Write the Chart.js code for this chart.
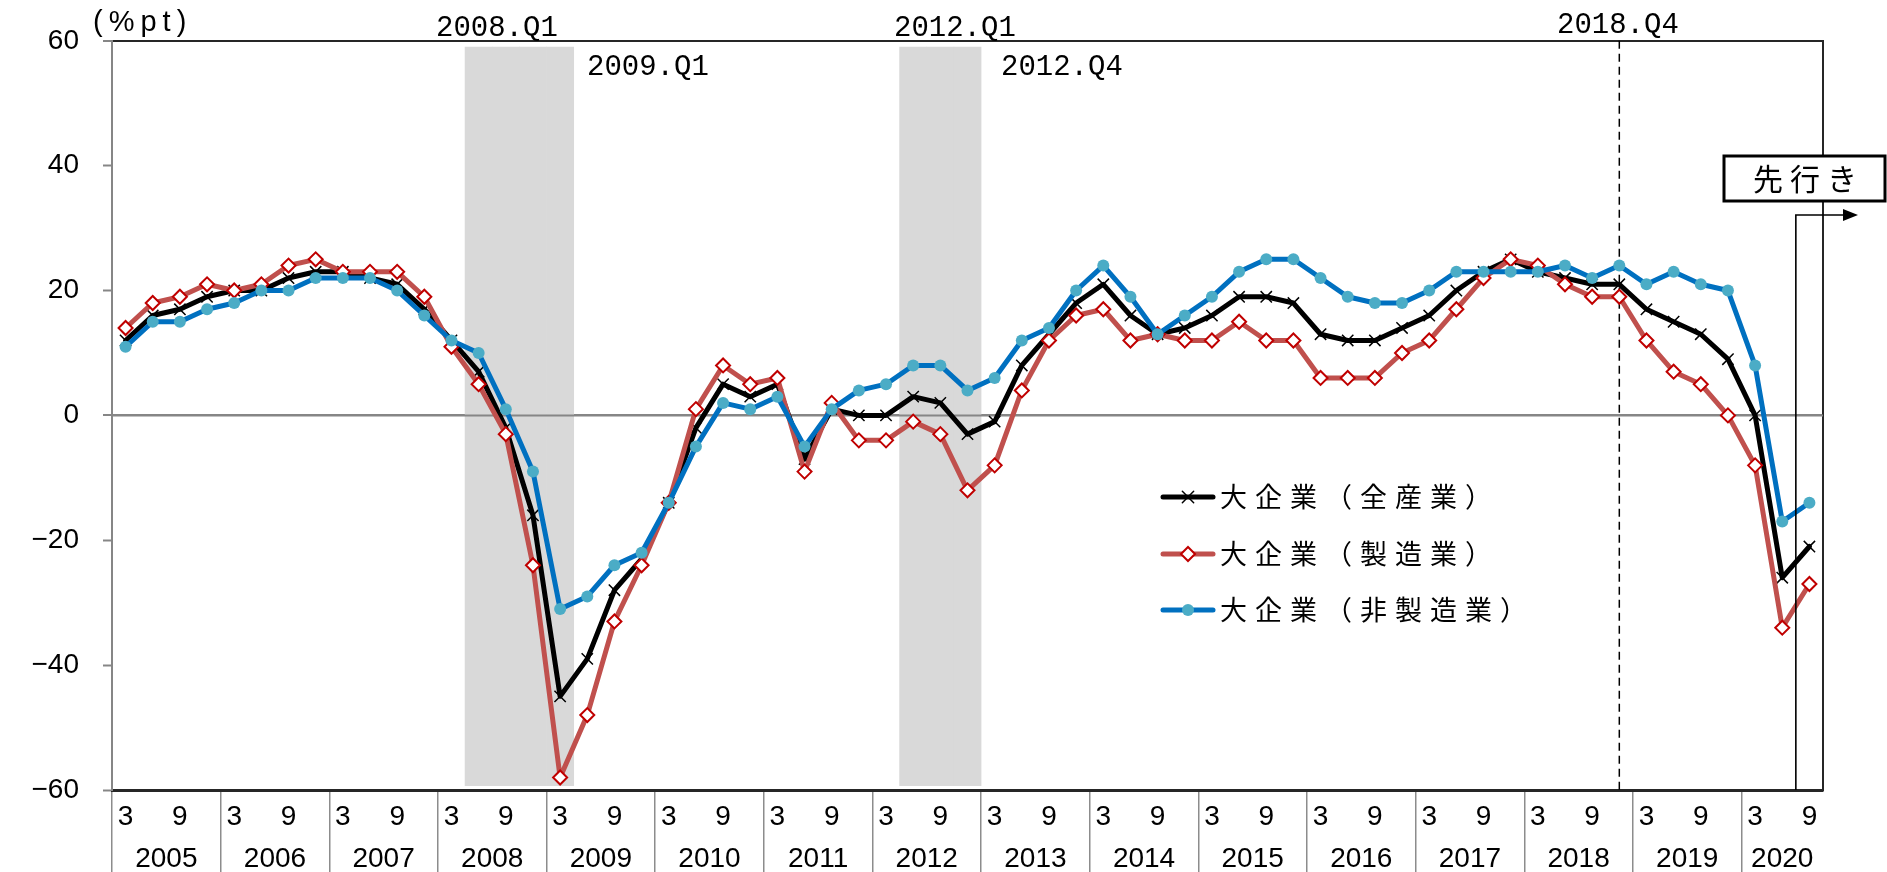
<!DOCTYPE html>
<html lang="ja">
<head>
<meta charset="utf-8">
<title>大企業 業況判断DI</title>
<script src="https://cdn.jsdelivr.net/npm/chart.js"></script>
<style>
html,body{margin:0;padding:0;background:#fff;}
canvas{display:block;}
</style>
</head>
<body>
<canvas id="c" width="1887" height="872"></canvas>
<script>
// ---- categories (year/month of each quarterly survey) ----
const categories = [
  '2005/3','2005/6','2005/9','2005/12',
  '2006/3','2006/6','2006/9','2006/12',
  '2007/3','2007/6','2007/9','2007/12',
  '2008/3','2008/6','2008/9','2008/12',
  '2009/3','2009/6','2009/9','2009/12',
  '2010/3','2010/6','2010/9','2010/12',
  '2011/3','2011/6','2011/9','2011/12',
  '2012/3','2012/6','2012/9','2012/12',
  '2013/3','2013/6','2013/9','2013/12',
  '2014/3','2014/6','2014/9','2014/12',
  '2015/3','2015/6','2015/9','2015/12',
  '2016/3','2016/6','2016/9','2016/12',
  '2017/3','2017/6','2017/9','2017/12',
  '2018/3','2018/6','2018/9','2018/12',
  '2019/3','2019/6','2019/9','2019/12',
  '2020/3','2020/6','2020/9'
];

// ---- series values (%pt) ----
const allIndustries = [
  12, 16, 17, 19,
  20, 20, 22, 23,
  23, 22, 21, 17,
  12, 7, -2, -16,
  -45, -39, -28, -23,
  -14, -2, 5, 3,
  5, -7, 1, 0,
  0, 3, 2, -3,
  -1, 8, 13, 18,
  21, 16, 13, 14,
  16, 19, 19, 18,
  13, 12, 12, 14,
  16, 20, 23, 25,
  23, 22, 21, 21,
  17, 15, 13, 9,
  0, -26, -21
];
const manufacturing = [
  14, 18, 19, 21,
  20, 21, 24, 25,
  23, 23, 23, 19,
  11, 5, -3, -24,
  -58, -48, -33, -24,
  -14, 1, 8, 5,
  6, -9, 2, -4,
  -4, -1, -3, -12,
  -8, 4, 12, 16,
  17, 12, 13, 12,
  12, 15, 12, 12,
  6, 6, 6, 10,
  12, 17, 22, 25,
  24, 21, 19, 19,
  12, 7, 5, 0,
  -8, -34, -27
];
const nonManufacturing = [
  11, 15, 15, 17,
  18, 20, 20, 22,
  22, 22, 20, 16,
  12, 10, 1, -9,
  -31, -29, -24, -22,
  -14, -5, 2, 1,
  3, -5, 1, 4,
  5, 8, 8, 4,
  6, 12, 14, 20,
  24, 19, 13, 16,
  19, 23, 25, 25,
  22, 19, 18, 18,
  20, 23, 23, 23,
  23, 24, 22, 24,
  21, 23, 21, 20,
  8, -17, -14
];

const seriesNames = ['大企業（全産業）', '大企業（製造業）', '大企業（非製造業）'];

// ---- axis ticks ----
const yTicks = [-60, -40, -20, 0, 20, 40, 60];
const shownMonths = ['3', '9'];

// ---- shaded periods and markers ----
const bandPeriods = [['2008/6', '2009/3'], ['2012/6', '2012/12']];
const bandRange = [-59.3, 59];
const dashedMarker = '2018/12';
const forecastSplit = ['2020/6', '2020/9'];
const annotationTexts = ['2008.Q1', '2009.Q1', '2012.Q1', '2012.Q4', '2018.Q4'];
const forecastText = '先行き';
const unitText = '(%pt)';

// derived helpers
const idxOf = c => categories.indexOf(c);
const bandData = categories.map((c, i) =>
  bandPeriods.some(([a, b]) => i >= idxOf(a) && i <= idxOf(b)) ? bandRange.slice() : null);
const yearList = [];
categories.forEach(c => { const y = c.split('/')[0]; if (!yearList.includes(y)) yearList.push(y); });
const yearCenters = yearList.map(y => {
  const ids = categories.map((c, i) => c.startsWith(y + '/') ? i : -1).filter(i => i >= 0);
  return (ids[0] + ids[ids.length - 1]) / 2;
});

const SANS = "'Liberation Sans', Arial, sans-serif";
const MONO = "'Liberation Mono', 'DejaVu Sans Mono', monospace";
const CJK = "'Noto Sans CJK JP', 'Noto Sans CJK SC', sans-serif";

// annotation placement (pixels)
const annotationPos = [
  {x: 436, y: 26}, {x: 587, y: 65}, {x: 894, y: 26}, {x: 1001, y: 65}, {x: 1557, y: 23}
];

function spacedText(ctx, text, x, y, spacing, align) {
  ctx.letterSpacing = spacing + 'px';
  const w = ctx.measureText(text).width - spacing;
  let left = x;
  if (align === 'center') left = x - w / 2;
  ctx.textAlign = 'left';
  ctx.fillText(text, left, y);
  ctx.letterSpacing = '0px';
}

const overlay = {
  id: 'overlay',
  afterDatasetDraw(chart, args) {
    if (args.meta.type !== 'bar') return;
    const {ctx, chartArea: a, scales: {x, y}} = chart;
    ctx.save();
    const y0 = y.getPixelForValue(0);
    ctx.strokeStyle = '#868686';
    ctx.lineWidth = 2;
    ctx.beginPath(); ctx.moveTo(a.left, y0); ctx.lineTo(a.right, y0); ctx.stroke();
    const xd = x.getPixelForValue(idxOf(dashedMarker));
    ctx.strokeStyle = '#000';
    ctx.lineWidth = 1.5;
    ctx.setLineDash([8, 5]);
    ctx.beginPath(); ctx.moveTo(xd, a.top); ctx.lineTo(xd, a.bottom); ctx.stroke();
    ctx.restore();
  },
  afterDraw(chart) {
    const {ctx, chartArea: a, scales: {x, y}} = chart;
    ctx.save();
    ctx.fillStyle = '#000';

    // year labels of the category axis (second row)
    ctx.font = '28px ' + SANS;
    ctx.textBaseline = 'middle';
    ctx.textAlign = 'center';
    yearList.forEach((yr, k) => {
      ctx.fillText(yr, x.getPixelForValue(yearCenters[k]), 859);
    });

    // period annotations
    ctx.textBaseline = 'alphabetic';
    ctx.font = '29px ' + MONO;
    annotationTexts.forEach((t, i) => {
      const p = annotationPos[i];
      spacedText(ctx, t, p.x, p.y + 10, 0, 'left');
    });
    // unit
    ctx.font = '29px ' + SANS;
    spacedText(ctx, unitText, 93, 31, 6, 'left');

    // forecast arrow
    const xf = x.getPixelForValue((idxOf(forecastSplit[0]) + idxOf(forecastSplit[1])) / 2);
    const ya = 215;
    ctx.strokeStyle = '#000';
    ctx.lineWidth = 1.6;
    ctx.beginPath();
    ctx.moveTo(xf, a.bottom);
    ctx.lineTo(xf, ya);
    ctx.lineTo(1845, ya);
    ctx.stroke();
    ctx.beginPath();
    ctx.moveTo(1858, ya); ctx.lineTo(1843, ya - 6); ctx.lineTo(1843, ya + 6); ctx.closePath();
    ctx.fill();

    // forecast box
    ctx.fillStyle = '#fff';
    ctx.fillRect(1724, 156, 162, 45);
    ctx.strokeStyle = '#000';
    ctx.lineWidth = 3;
    ctx.strokeRect(1724, 156, 161, 45);
    ctx.fillStyle = '#000';
    ctx.font = '30px ' + CJK;
    ctx.textBaseline = 'middle';
    spacedText(ctx, forecastText, 1805, 179, 7, 'center');

    // legend
    const rows = [497, 554, 610];
    chart.data.datasets.filter(d => d.type === 'line').forEach((d, i) => {
      const ry = rows[i];
      ctx.strokeStyle = d.borderColor;
      ctx.lineWidth = 5;
      ctx.lineCap = 'round';
      ctx.beginPath(); ctx.moveTo(1163, ry); ctx.lineTo(1213, ry); ctx.stroke();
      const cx = 1188;
      if (d.pointStyle === 'crossRot') {
        ctx.strokeStyle = d.pointBorderColor; ctx.lineWidth = 1.5;
        const r = d.pointRadius * Math.SQRT1_2;
        ctx.beginPath();
        ctx.moveTo(cx - r, ry - r); ctx.lineTo(cx + r, ry + r);
        ctx.moveTo(cx - r, ry + r); ctx.lineTo(cx + r, ry - r);
        ctx.stroke();
      } else if (d.pointStyle === 'rectRot') {
        const r = d.pointRadius;
        ctx.fillStyle = d.pointBackgroundColor;
        ctx.strokeStyle = d.pointBorderColor; ctx.lineWidth = d.pointBorderWidth;
        ctx.beginPath();
        ctx.moveTo(cx - r, ry); ctx.lineTo(cx, ry - r); ctx.lineTo(cx + r, ry); ctx.lineTo(cx, ry + r); ctx.closePath();
        ctx.fill(); ctx.stroke();
      } else {
        ctx.fillStyle = d.pointBackgroundColor;
        ctx.beginPath(); ctx.arc(cx, ry, d.pointRadius, 0, Math.PI * 2); ctx.fill();
      }
      ctx.fillStyle = '#000';
      ctx.font = '27px ' + CJK;
      ctx.textBaseline = 'middle';
      spacedText(ctx, d.label, 1220, ry, 8, 'left');
    });
    ctx.restore();
  }
};

Chart.defaults.font.family = SANS;
Chart.defaults.color = '#000';

new Chart(document.getElementById('c'), {
  type: 'line',
  data: {
    labels: categories,
    datasets: [
      {
        type: 'bar', label: 'band', data: bandData,
        backgroundColor: '#D9D9D9', borderWidth: 0,
        barPercentage: 1, categoryPercentage: 1, grouped: false, order: 10
      },
      {
        type: 'line', label: seriesNames[0], data: allIndustries,
        borderColor: '#000000', borderWidth: 5, tension: 0,
        borderJoinStyle: 'round', borderCapStyle: 'round',
        pointStyle: 'crossRot', pointRadius: 8, pointBorderColor: '#000000',
        pointBackgroundColor: '#000000', pointBorderWidth: 1.5, order: 3
      },
      {
        type: 'line', label: seriesNames[1], data: manufacturing,
        borderColor: '#C0504D', borderWidth: 5, tension: 0,
        borderJoinStyle: 'round', borderCapStyle: 'round',
        pointStyle: 'rectRot', pointRadius: 7, pointBorderColor: '#C00000',
        pointBackgroundColor: '#FFFFFF', pointBorderWidth: 2, order: 2
      },
      {
        type: 'line', label: seriesNames[2], data: nonManufacturing,
        borderColor: '#0070C0', borderWidth: 5, tension: 0,
        borderJoinStyle: 'round', borderCapStyle: 'round',
        pointStyle: 'circle', pointRadius: 6, pointBorderColor: '#4BACC6',
        pointBackgroundColor: '#4BACC6', pointBorderWidth: 0, order: 1
      }
    ]
  },
  options: {
    responsive: false,
    animation: false,
    devicePixelRatio: 1,
    events: [],
    layout: { padding: { top: 38, right: 64, bottom: 0, left: 0 } },
    plugins: { legend: { display: false }, tooltip: { enabled: false } },
    scales: {
      x: {
        type: 'category', position: 'bottom', offset: true,
        grid: {
          display: true, drawOnChartArea: false, offset: true, drawTicks: true,
          tickLength: 82, lineWidth: 1.5,
          color: c => (c.index % 4 === 0 || c.index === categories.length) ? '#8C8C8C' : 'rgba(0,0,0,0)'
        },
        border: { display: true, color: '#262626', width: 3 },
        ticks: {
          autoSkip: false, maxRotation: 0, minRotation: 0, padding: -72, color: '#000',
          font: { family: SANS, size: 28 },
          callback: (v, i) => { const m = categories[i].split('/')[1]; return shownMonths.includes(m) ? m : ''; }
        },
        afterFit: s => { s.height = 82; }
      },
      y: {
        type: 'linear', position: 'left', min: -60, max: 60,
        afterBuildTicks: s => { s.ticks = yTicks.map(v => ({ value: v })); },
        ticks: {
          padding: 24, color: '#000',
          font: { family: SANS, size: 28 },
          callback: v => v < 0 ? '\u2212' + Math.abs(v) : String(v)
        },
        grid: {
          drawOnChartArea: true, drawTicks: true, tickLength: 9, tickWidth: 2, tickColor: '#868686',
          color: c => c.tick && c.tick.value === 0 ? '#868686' : (c.tick && c.tick.value === 60 ? '#262626' : 'rgba(0,0,0,0)'),
          lineWidth: c => c.tick && (c.tick.value === 0 || c.tick.value === 60) ? 2 : 1
        },
        border: { display: true, color: '#868686', width: 2 },
        afterFit: s => { s.width = 112; }
      },
      yR: {
        type: 'linear', position: 'right', min: -60, max: 60,
        grid: { display: false }, ticks: { display: false },
        border: { display: true, color: '#262626', width: 2 },
        afterFit: s => { s.width = 0; }
      }
    }
  },
  plugins: [overlay]
});
</script>
</body>
</html>
